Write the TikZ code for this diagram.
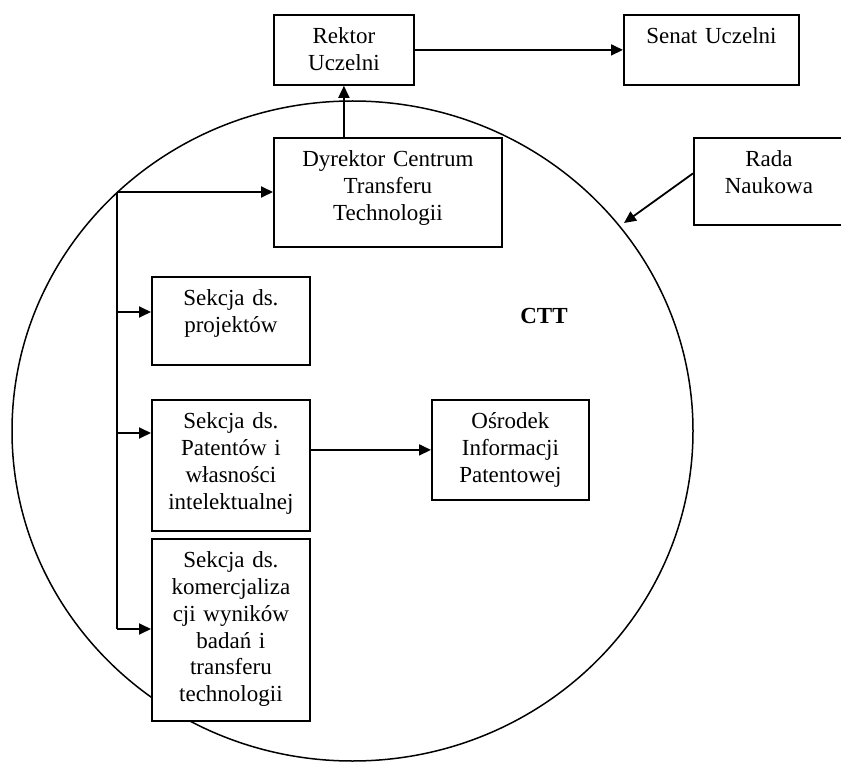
\documentclass[tikz,border=0pt]{standalone}
\usepackage{fontspec}
\setmainfont{Liberation Serif}
\usetikzlibrary{arrows.meta}
\begin{document}
\begin{tikzpicture}[x=1pt, y=-1pt,
  % box with its top-left corner at the given point; text starts at the top
  orgbox/.style 2 args={draw, fill=white, line width=1.8pt, anchor=north west, inner sep=0pt,
    align=center, text width=#1pt, text height=29pt, text depth=#2pt,
    font=\fontsize{23}{26.7}\selectfont},
  link/.style={line width=1.8pt, -{Triangle[length=12pt, width=11pt]}},
  trunk/.style={line width=1.8pt}]
\useasboundingbox (0,0) rectangle (841,762);

% outer ellipse enclosing the centre
\draw[line width=1.5pt] (352.5,431) ellipse [x radius=340.5, y radius=330];
\node[font=\bfseries\fontsize{23}{26.7}\selectfont] (ctt) at (544,316) {CTT};

% boxes (width, depth below the first baseline)
\node[orgbox={140}{41}]  (rektor)   at (273,14)  {Rektor\\Uczelni};
\node[orgbox={175}{41}]  (senat)    at (623,14)  {Senat Uczelni};
\node[orgbox={228}{80}]  (dyrektor) at (273,137) {Dyrektor Centrum\\Transferu\\Technologii};
\node[orgbox={150}{58}]  (rada)     at (693,137) {Rada\\Naukowa};
\node[orgbox={158}{59}]  (proj)     at (151,276) {Sekcja ds.\\projektów};
\node[orgbox={158}{102}] (patent)   at (151,399) {Sekcja ds.\\Patentów i\\własności\\intelektualnej};
\node[orgbox={157}{71}]  (osrodek)  at (431,399) {Ośrodek\\Informacji\\Patentowej};
\node[orgbox={158}{153}] (komerc)   at (151,538) {Sekcja ds.\\komercjaliza\\cji wyników\\badań i\\transferu\\technologii};

% top-level links
\draw[link] (rektor) -- (senat);
\draw[link] (rektor.south |- dyrektor.north) -- (rektor.south);
\coordinate (radatip) at (624,223);
\draw[link] ([yshift=8pt]rada.west) -- (radatip);
\draw[link] (patent.east |- osrodek.west) -- (osrodek.west);

% distribution line from the director to the sections
\coordinate (t1) at (117,192);
\coordinate (t2) at (117,312);
\coordinate (t3) at (117,433);
\coordinate (t4) at (117,629);
\draw[trunk] (t1) -- (t4);
\draw[link] (t1) -- (t1 -| dyrektor.west);
\draw[link] (t2) -- (t2 -| proj.west);
\draw[link] (t3) -- (t3 -| patent.west);
\draw[link] (t4) -- (t4 -| komerc.west);
\end{tikzpicture}
\end{document}
